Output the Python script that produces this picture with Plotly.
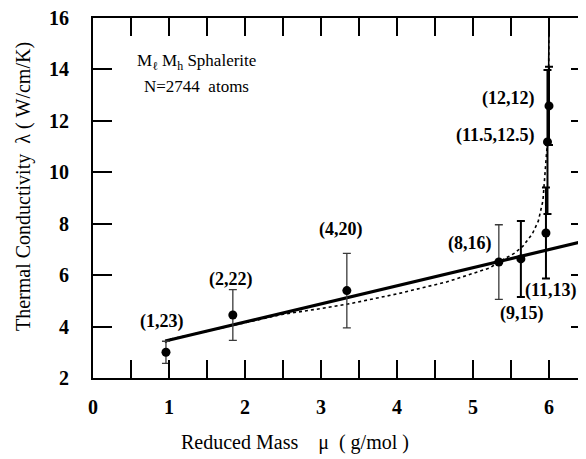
import plotly.graph_objects as go

# ---- data ----
mu = [0.96, 1.84, 3.34, 5.34, 5.63, 5.96, 5.98, 6.0]
lam = [3.0, 4.45, 5.40, 6.51, 6.63, 7.64, 11.18, 12.58]
lam_err = [0.43, 0.99, 1.45, 1.45, 1.48, 1.77, 2.8, 1.52]
pair_labels = ["(1,23)", "(2,22)", "(4,20)", "(8,16)", "(9,15)", "(11,13)", "(11.5,12.5)", "(12,12)"]
label_x = [0.91, 1.82, 3.26, 4.96, 5.64, 6.03, 5.29, 5.47]
label_y = [4.18, 5.85, 7.76, 7.25, 4.49, 5.39, 11.42, 12.86]

fit_x = [0.95, 6.49]
fit_y = [3.44, 7.34]

curve_x = [0.95, 1.0, 1.5, 2.0, 2.5, 3.0, 3.38, 4.0, 4.66, 5.22, 5.34, 5.55, 5.66,
           5.78, 5.86, 5.92, 5.95, 5.97, 5.99, 6.0]
curve_y = [3.37, 3.50, 3.82, 4.15, 4.48, 4.70, 4.89, 5.27, 5.74, 6.28, 6.51, 6.86, 7.14,
           7.60, 8.11, 8.89, 10.05, 10.83, 11.18, 16.0]

x_ticks = [0, 1, 2, 3, 4, 5, 6]
y_ticks = [2, 4, 6, 8, 10, 12, 14, 16]

FONT = "Liberation Serif"
thin_n = 4  # first points drawn with thin grey error bars

fig = go.Figure()

# dotted model curve
fig.add_trace(go.Scatter(x=curve_x, y=curve_y, mode="lines",
                         line=dict(color="black", width=1.6, dash="dot"),
                         hoverinfo="skip", showlegend=False))
# asymptote part (drawn solid)
fig.add_trace(go.Scatter(x=curve_x[-2:], y=curve_y[-2:], mode="lines",
                         line=dict(color="black", width=1.6),
                         hoverinfo="skip", showlegend=False))
# linear fit
fig.add_trace(go.Scatter(x=fit_x, y=fit_y, mode="lines",
                         line=dict(color="black", width=3.2),
                         hoverinfo="skip", showlegend=False))
# data points with thin error bars
fig.add_trace(go.Scatter(x=mu[:thin_n], y=lam[:thin_n], mode="markers",
                         marker=dict(color="black", size=9),
                         error_y=dict(type="data", array=lam_err[:thin_n], visible=True,
                                      color="#3a3a3a", thickness=1.3, width=4),
                         showlegend=False))
# data points with thick error bars
fig.add_trace(go.Scatter(x=mu[thin_n:], y=lam[thin_n:], mode="markers",
                         marker=dict(color="black", size=9),
                         error_y=dict(type="data", array=lam_err[thin_n:], visible=True,
                                      color="black", thickness=2, width=4),
                         showlegend=False))
# invisible trace for the right-hand tick axis
fig.add_trace(go.Scatter(x=fit_x, y=fit_y, yaxis="y2", mode="lines",
                         line=dict(width=0), opacity=0, hoverinfo="skip", showlegend=False))

PW, PH = 494.0, 360.0  # plot area size in px

annotations = []
for t, lx, ly in zip(pair_labels, label_x, label_y):
    annotations.append(dict(x=lx, y=ly, xref="x", yref="y", text="<b>%s</b>" % t,
                            xanchor="center", yanchor="middle",
                            showarrow=False, font=dict(family=FONT, size=18, color="black")))

annotations.append(dict(x=0.55, y=14.3, xref="x", yref="y", xanchor="left", yanchor="middle",
                        text="M<sub>ℓ</sub> M<sub>h</sub> Sphalerite", showarrow=False,
                        font=dict(family=FONT, size=17, color="black")))
annotations.append(dict(x=0.645, y=13.32, xref="x", yref="y", xanchor="left", yanchor="middle",
                        text="N=2744  atoms", showarrow=False,
                        font=dict(family=FONT, size=17, color="black")))
# axis titles
annotations.append(dict(x=-70/PW, y=(378-187)/PH, xref="paper", yref="paper",
                        xanchor="center", yanchor="middle",
                        text="Thermal Conductivity  λ ( W/cm/K)", textangle=-90,
                        showarrow=False, font=dict(family=FONT, size=20, color="black")))
annotations.append(dict(x=(295-93)/PW, y=-(442-378)/PH, xref="paper", yref="paper",
                        xanchor="center", yanchor="middle",
                        text="Reduced Mass    μ  ( g/mol )",
                        showarrow=False, font=dict(family=FONT, size=20, color="black")))

fig.update_layout(
    width=586, height=459,
    # page body has an 8px offset; margins compensate so the plot box lands at
    # x 93..587, y 18..378 in the window
    margin=dict(l=85, r=7, t=10, b=89, autoexpand=False),
    paper_bgcolor="white", plot_bgcolor="white",
    showlegend=False,
    annotations=annotations,
    xaxis=dict(range=[0, 6.5], tickvals=x_ticks, ticktext=[str(v) for v in x_ticks],
               ticks="inside", ticklen=18, tickwidth=2, tickcolor="black",
               minor=dict(dtick=0.5, tick0=0, ticks="inside", ticklen=18, tickwidth=2,
                          tickcolor="black"),
               showline=True, linecolor="black", linewidth=2, mirror="ticks",
               showgrid=False, zeroline=False, ticklabelstandoff=10, automargin=False,
               ticklabeloverflow="allow",
               tickfont=dict(family=FONT, size=20, color="black", weight="bold")),
    yaxis=dict(range=[2, 16], tickvals=y_ticks, ticktext=[str(v) for v in y_ticks],
               ticks="inside", ticklen=19, tickwidth=2, tickcolor="black",
               showline=True, linecolor="black", linewidth=2, automargin=False,
               showgrid=False, zeroline=False, ticklabelstandoff=18,
               ticklabeloverflow="allow",
               tickfont=dict(family=FONT, size=20, color="black", weight="bold")),
    yaxis2=dict(range=[2, 16], overlaying="y", side="right", tickvals=y_ticks[1:-1],
                ticks="inside", ticklen=16, tickwidth=2, tickcolor="black", automargin=False,
                showticklabels=False, showline=False, showgrid=False, zeroline=False),
)

fig.write_html("out.html")
